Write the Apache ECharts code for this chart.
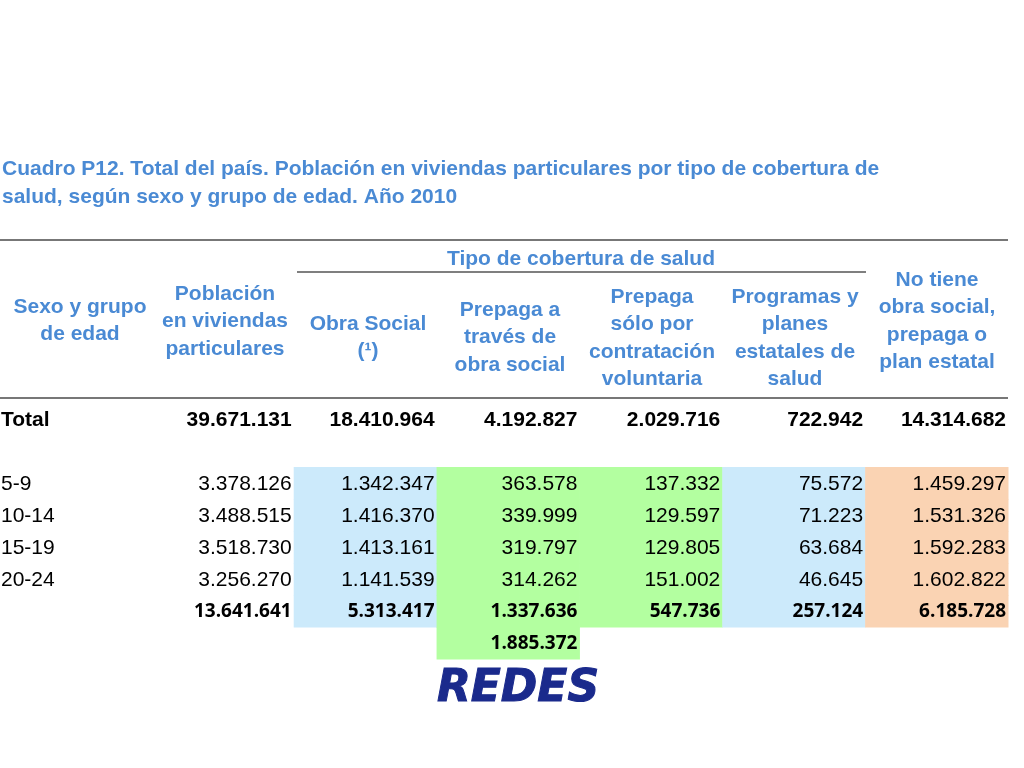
<!DOCTYPE html>
<html><head><meta charset="utf-8">
<script src="https://cdn.jsdelivr.net/npm/echarts@6/dist/echarts.min.js"></script>
<style>html,body{margin:0;background:#fff}#c{width:1024px;height:768px}</style></head>
<body><div id="c"></div>
<script>
const rowLabels = ['Total', '', '5-9', '10-14', '15-19', '20-24', '', ''];
const colPoblacion = ['39.671.131', '', '3.378.126', '3.488.515', '3.518.730', '3.256.270', '13.641.641', ''];
const colObraSocial = ['18.410.964', '', '1.342.347', '1.416.370', '1.413.161', '1.141.539', '5.313.417', ''];
const colPrepagaOS = ['4.192.827', '', '363.578', '339.999', '319.797', '314.262', '1.337.636', '1.885.372'];
const colPrepagaVol = ['2.029.716', '', '137.332', '129.597', '129.805', '151.002', '547.736', ''];
const colProgramas = ['722.942', '', '75.572', '71.223', '63.684', '46.645', '257.124', ''];
const colNoTiene = ['14.314.682', '', '1.459.297', '1.531.326', '1.592.283', '1.602.822', '6.185.728', ''];
const columns = [rowLabels, colPoblacion, colObraSocial, colPrepagaOS, colPrepagaVol, colProgramas, colNoTiene];
const colFill = [null, null, '#CCEAFB', '#B3FFA0', '#B3FFA0', '#CCEAFB', '#FAD3B3'];

const BLUE = '#4A8AD4';
const data = [];
columns.forEach((col, c) => {
  col.forEach((txt, r) => {
    let bg = null;
    if (colFill[c] && r >= 2 && r <= 6) bg = colFill[c];
    if (c === 3 && r === 7) bg = colFill[c];
    if (txt === '' && !bg) return;
    data.push([c, r, txt, bg]);
  });
});

const chart = echarts.init(document.getElementById('c'));
const HF = 'bold 21px "Liberation Sans", Arial';
const hdr = (x, y, t) => ({type:'text', x:x, y:y, style:{text:t, fill:BLUE, font:HF, align:'center', lineHeight:27.5}});
chart.setOption({
  animation:false,
  grid:{left:8, width:1000, top:403, height:256},
  xAxis:{type:'value', min:0, max:7, show:false},
  yAxis:{type:'value', min:-0.5, max:7.5, inverse:true, show:false},
  series:[{
    type:'custom',
    data:data,
    renderItem:(params, api) => {
      const c = api.value(0), r = api.value(1);
      const d = data[params.dataIndex];
      const p0 = api.coord([c, r - 0.5]), p1 = api.coord([c + 1, r + 0.5]);
      const children = [];
      if (d[3]) children.push({type:'rect', shape:{x:p0[0], y:p0[1], width:p1[0]-p0[0]+0.5, height:p1[1]-p0[1]+0.5}, style:{fill:d[3]}});
      const font = r === 0 ? 'bold 21px "Liberation Sans", Arial' : (r >= 6 ? 'bold 19px "Open Sans", Arial' : '21px "Liberation Sans", Arial');
      const left = c === 0;
      children.push({type:'text', style:{text:d[2], x: left ? p0[0]-7 : p1[0]-2, y:(p0[1]+p1[1])/2 + 1, textAlign: left?'left':'right', textVerticalAlign:'middle', font:font, fill:'#000'}});
      return {type:'group', children};
    }
  }],
  graphic:[
    {type:'text', left:2, top:155, style:{text:'Cuadro P12. Total del país. Población en viviendas particulares por tipo de cobertura de\nsalud, según sexo y grupo de edad. Año 2010', fill:BLUE, font:'bold 21px "Liberation Sans", Arial', lineHeight:28}},
    {type:'line', shape:{x1:0, y1:240, x2:1008, y2:240}, style:{stroke:'#777', lineWidth:2}},
    {type:'line', shape:{x1:297, y1:272, x2:866, y2:272}, style:{stroke:'#555', lineWidth:1.5}},
    {type:'line', shape:{x1:0, y1:398, x2:1008, y2:398}, style:{stroke:'#777', lineWidth:2}},
    hdr(581, 245, 'Tipo de cobertura de salud'),
    hdr(80, 293, 'Sexo y grupo\nde edad'),
    hdr(225, 280, 'Población\nen viviendas\nparticulares'),
    hdr(368, 310, 'Obra Social\n(¹)'),
    hdr(510, 296, 'Prepaga a\ntravés de\nobra social'),
    hdr(652, 283, 'Prepaga\nsólo por\ncontratación\nvoluntaria'),
    hdr(795, 283, 'Programas y\nplanes\nestatales de\nsalud'),
    hdr(937, 266, 'No tiene\nobra social,\nprepaga o\nplan estatal'),
    {type:'text', x:518, y:668, style:{text:'REDES', fill:'#1A2A8C', font:'italic 900 44px "DejaVu Sans", Arial', align:'center', stroke:'#1A2A8C', lineWidth:1}}
  ]
});
</script></body></html>
